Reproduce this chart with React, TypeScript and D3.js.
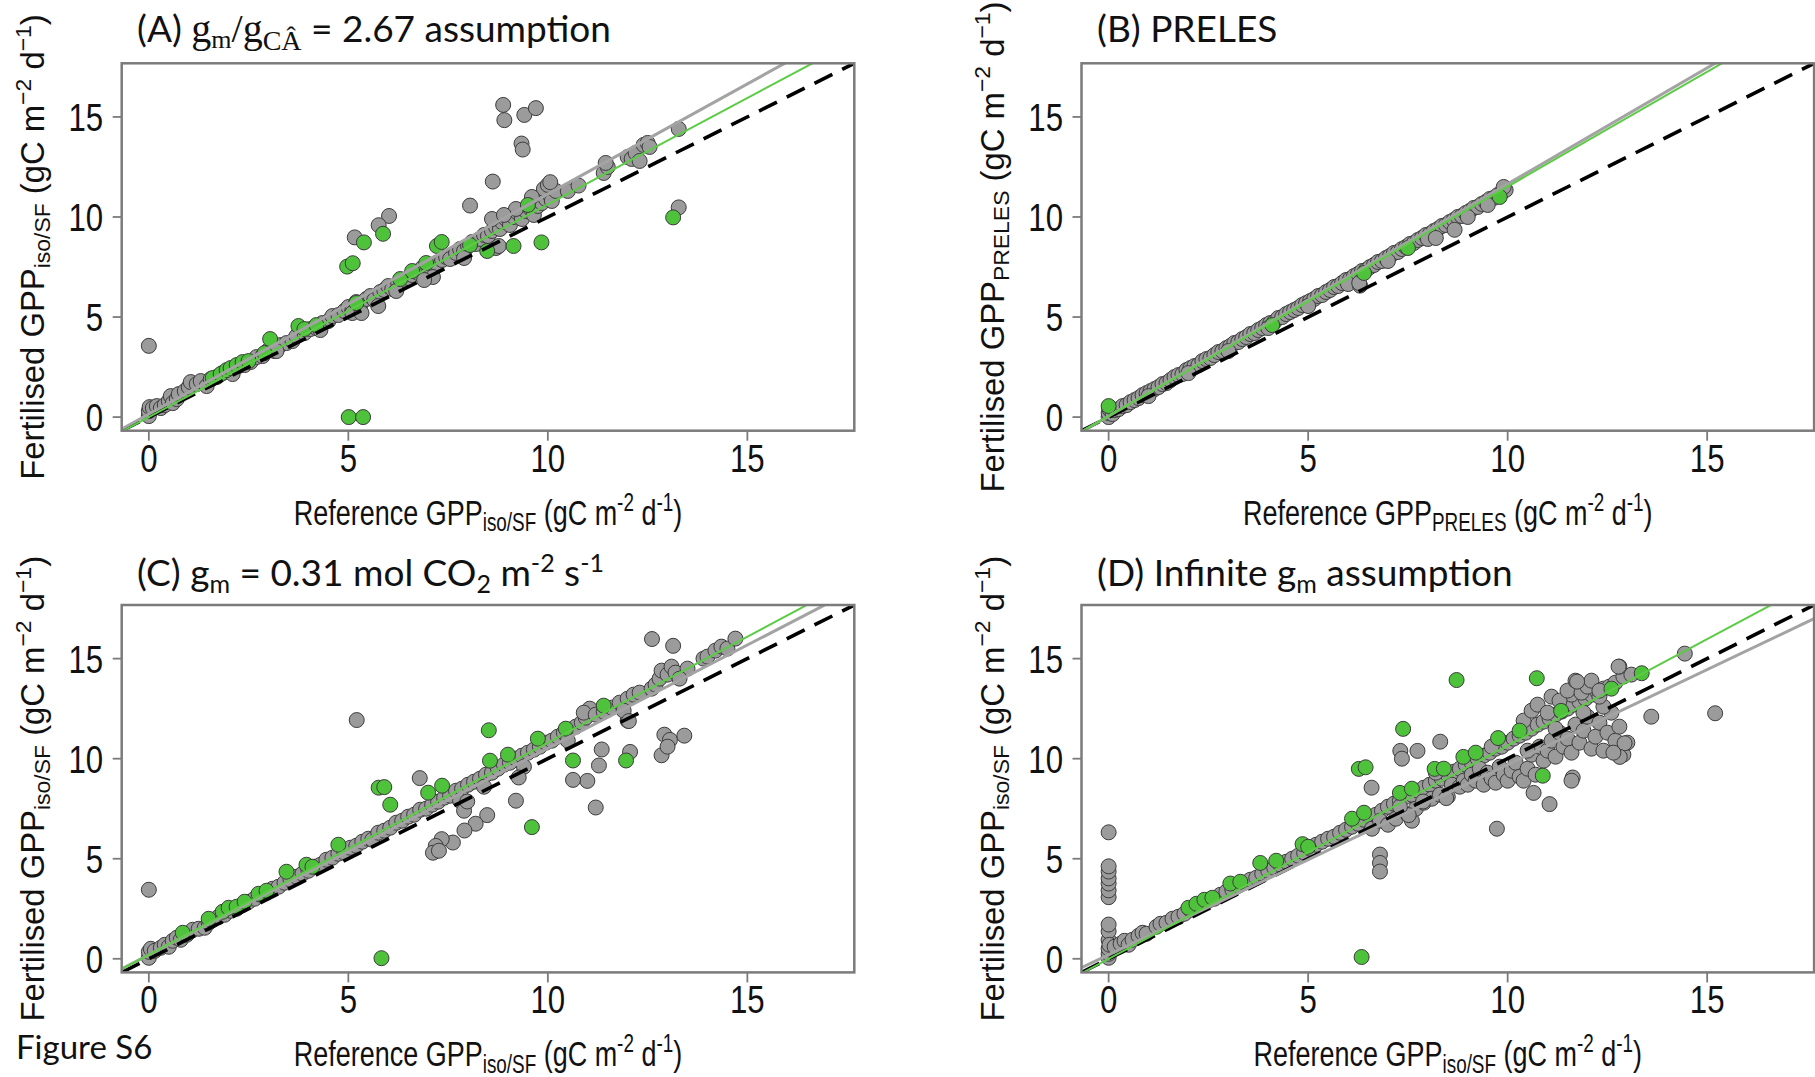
import React from 'react';
import * as d3 from 'd3';

type P = [number, number];

const DOMAIN: [number, number] = [-0.68, 17.68];
const TICKS = [0, 5, 10, 15];

// ---------- Panel A ----------
const aGray: P[] = [
  [0,0.05],[0,0.3],[0.02,0.5],[0.1,0.45],[0.2,0.55],[0.3,0.45],[0.4,0.6],[0.5,0.8],[0.55,1.05],[0.6,0.7],[0.7,0.9],[0.75,1.15],[0.9,1.3],[1.0,1.5],[1.05,1.75],[1.2,1.65],[1.3,1.8],[1.45,1.55],[1.55,1.9],[1.7,2.0],[1.85,2.2],[2.0,2.3],[2.1,2.15],[2.25,2.55],[2.4,2.6],[2.55,2.75],[2.7,3.0],[2.85,3.05],[3.0,3.35],[3.15,3.3],[3.3,3.6],[3.45,3.7],[3.6,3.8],[3.7,4.05],[3.9,4.2],[4.05,4.4],[4.2,4.45],[4.35,4.7],[4.5,4.8],[4.6,5.05],[4.75,5.1],[4.9,5.3],[5.0,5.5],[5.1,5.35],[5.2,5.75],[5.3,5.6],[5.45,5.9],[5.55,6.05],[5.65,5.85],[5.8,6.25],[5.9,6.35],[6.0,6.55],[6.1,6.4],[6.25,6.7],[6.35,6.85],[6.5,6.95],[6.6,7.1],[6.75,7.2],[6.85,7.45],[7.0,7.5],[7.1,7.35],[7.2,7.7],[7.35,7.85],[7.45,8.0],[7.55,7.9],[7.7,8.2],[7.8,8.4],[7.9,8.3],[8.0,8.55],[8.1,8.75],[8.2,8.65],[8.3,8.9],[8.4,9.1],[8.5,9.05],[8.6,9.3],[8.7,9.5],[8.8,9.4],[8.85,9.75],[8.95,9.9],[9.05,9.6],[9.15,10.0],[9.25,10.2],[9.35,9.9],[9.45,10.3],[9.55,10.45],[9.65,10.1],[9.75,10.55],[9.85,10.7],[9.95,10.9],[10.05,11.1],[10.1,10.8],[10.2,11.3],[9.9,11.4],[10.0,11.6],
  [5.1,5.2],[5.33,5.2],[5.75,5.55],[7.12,7.0],[6.2,6.3],[8.7,8.45],[7.9,7.95],[4.3,4.35],[3.2,3.3],[6.9,6.85],
  [8.6,9.9],[9.2,10.4],[8.9,10.1],[9.6,11.0],
  [10.5,11.3],[10.77,11.57],[11.4,12.2],[11.5,12.5],[11.45,12.7],[12.0,13.0],[12.1,12.9],[12.2,13.2],[12.3,12.8],[12.4,13.6],[12.5,13.7],[12.55,13.5],[13.28,14.4],
  [0,3.56],[8.88,15.6],[8.91,14.84],[9.41,15.1],[9.7,15.44],[9.34,13.67],[9.37,13.37],[8.62,11.77],[8.05,10.57],[6.02,10.05],[5.76,9.59],[5.16,8.98],[13.28,10.48],[8.77,8.55],[10.06,11.74]
];
const aGreen: P[] = [
  [1.6,1.95],[1.8,2.15],[1.95,2.35],[2.05,2.45],[2.2,2.6],[2.35,2.75],[2.5,2.8],[2.9,3.2],[3.04,3.9],[3.75,4.55],[3.9,4.4],[4.2,4.6],[5.2,5.7],[6.3,6.9],[6.6,7.3],[6.95,7.7],[7.22,8.55],[7.34,8.75],[8.05,8.6],[8.48,8.3],[9.5,10.6],
  [5.01,0],[5.37,0],[4.97,7.52],[5.11,7.69],[5.39,8.73],[5.87,9.16],[9.14,8.55],[9.84,8.73],[13.14,9.98]
];

// ---------- Panel B ----------
const bGray: P[] = [
  [0,0.0],[0,0.2],[0.02,0.4],[0.1,0.15],[0.15,0.35],[0.25,0.4],[0.35,0.55],[0.45,0.6],[0.55,0.75],[0.65,0.85],[0.75,0.95],[0.85,1.1],[0.95,1.2],[1.05,1.3],[1.15,1.4],[1.25,1.5],[1.35,1.65],[1.45,1.7],[1.55,1.85],[1.65,2.0],[1.75,2.1],[1.85,2.15],[1.95,2.35],[2.05,2.45],[2.15,2.55],[2.25,2.6],[2.35,2.8],[2.45,2.9],[2.55,2.95],[2.65,3.1],[2.75,3.25],[2.85,3.3],[2.95,3.45],[3.05,3.55],[3.15,3.7],[3.25,3.75],[3.35,3.9],[3.45,4.0],[3.55,4.15],[3.65,4.2],[3.75,4.35],[3.85,4.45],[3.95,4.6],[4.05,4.7],[4.15,4.75],[4.25,4.95],[4.35,5.0],[4.45,5.15],[4.55,5.25],[4.65,5.35],[4.75,5.45],[4.85,5.6],[4.95,5.7],[5.05,5.8],[5.15,5.9],[5.25,6.05],[5.35,6.1],[5.45,6.25],[5.55,6.35],[5.65,6.5],[5.75,6.55],[5.85,6.7],[5.95,6.85],[6.05,6.9],[6.15,7.05],[6.25,7.15],[6.35,7.3],[6.45,7.35],[6.55,7.5],[6.65,7.6],[6.75,7.75],[6.85,7.8],[6.95,7.95],[7.05,8.05],[7.15,8.2],[7.25,8.25],[7.35,8.4],[7.45,8.5],[7.55,8.65],[7.65,8.7],[7.75,8.85],[7.85,8.95],[7.95,9.1],[8.05,9.15],[8.15,9.3],[8.25,9.4],[8.35,9.55],[8.45,9.6],[8.55,9.75],[8.65,9.85],[8.75,10.0],[8.85,10.05],[8.95,10.2],[9.05,10.3],[9.15,10.45],[9.25,10.5],[9.35,10.65],[9.45,10.75],[9.55,10.9],[9.65,10.95],[9.75,11.1],[9.85,11.2],[9.95,11.35],[9.9,11.5],
  [1.0,1.05],[2.0,2.2],[3.0,3.3],[4.0,4.45],[5.0,5.55],[6.0,6.65],[7.0,7.8],[8.0,8.9],[9.0,10.0],[9.5,10.6],
  [6.3,6.57],[6.28,6.7],[8.67,9.36],[8.2,8.95]
];
const bGreen: P[] = [[0,0.55],[4.1,4.6],[6.4,7.2],[7.5,8.45],[9.8,11.0]];

// ---------- Panel C ----------
const cGray: P[] = [
  [0,0.05],[0,0.35],[0.05,0.5],[0.15,0.4],[0.3,0.55],[0.4,0.7],[0.5,0.6],[0.6,0.9],[0.7,1.05],[0.8,0.95],[0.95,1.2],[1.1,1.45],[1.25,1.5],[1.4,1.55],[1.5,1.8],[1.6,1.95],[1.75,2.1],[1.9,2.2],[2.05,2.4],[2.2,2.5],[2.35,2.7],[2.5,2.85],[2.65,3.0],[2.8,3.2],[2.95,3.3],[3.1,3.5],[3.25,3.6],[3.4,3.8],[3.55,3.95],[3.7,4.1],[3.85,4.25],[4.0,4.4],[4.15,4.6],[4.3,4.7],[4.45,4.95],[4.6,5.05],[4.75,5.25],[4.9,5.3],[5.05,5.55],[5.2,5.65],[5.35,5.85],[5.5,6.0],[5.6,5.95],[5.75,6.3],[5.9,6.4],[6.05,6.55],[6.2,6.8],[6.35,6.9],[6.5,7.1],[6.65,7.2],[6.8,7.45],[6.95,7.5],[7.1,7.7],[7.25,7.85],[7.4,8.05],[7.55,8.15],[7.7,8.4],[7.85,8.5],[8.0,8.7],[8.15,8.85],[8.3,9.0],[8.45,9.2],[8.6,9.3],[8.75,9.5],[8.9,9.7],[9.05,9.8],[9.2,10.0],[9.35,10.15],[9.5,10.3],[9.65,10.45],[9.8,10.6],[9.95,10.8],[10.1,10.9],[10.25,11.1],[10.4,11.3],[10.55,11.45],[10.7,11.6],[10.85,11.8],[10.95,12.05],[11.05,12.5],[10.9,12.3],[11.2,12.2],[11.4,12.35],[11.6,12.55],[11.8,12.8],[12.0,13.0],[12.15,13.2],[12.3,13.3],[12.6,13.5],[12.7,13.7],[12.8,14.0],[12.85,14.4],[13.0,14.2],[13.1,14.6],[13.2,14.3],[13.5,14.5],[13.9,15.0],[14.0,15.1],[14.2,15.4],[14.35,15.6],[14.5,15.5],[14.7,16.0],[13.3,14.0],
  [7.8,7.9],[7.9,7.4],[8.4,8.6],[9.4,9.6],[10.5,10.9],[12.0,11.9],[11.9,12.4],
  [0,3.45],[5.21,11.93],[6.79,9.03],[12.61,15.98],[13.14,15.64],[12.92,11.2],[13.06,10.94],[13.42,11.15],[12.85,10.17],[13.0,10.6],[12.06,10.34],[12.03,11.88],[11.35,10.46],[11.28,9.66],[10.99,8.89],[10.63,8.94],[11.2,7.56],[9.27,9.06],[9.2,7.9],[8.48,7.18],[8.19,6.75],[7.91,6.41],[7.62,5.81],[7.34,5.98],[7.19,5.64],[7.12,5.3],[7.27,5.4],[7.98,7.86]
];
const cGreen: P[] = [
  [0.85,1.3],[1.5,2.0],[1.85,2.35],[2.0,2.55],[2.2,2.6],[2.4,2.85],[2.75,3.25],[2.95,3.4],[3.45,4.35],[3.95,4.7],[4.1,4.6],[4.75,5.7],[6.05,7.7],[7.0,8.3],[7.35,8.65],[8.55,9.9],[9.0,10.2],[9.75,11.0],[10.45,11.5],[11.4,12.65],
  [5.83,0.03],[5.76,8.55],[5.9,8.58],[8.52,11.42],[9.6,6.58],[10.63,9.91],[11.96,9.91]
];

// ---------- Panel D ----------
const dGray: P[] = [
  [0,0.05],[0,0.25],[0,0.51],[0,0.94],[0,1.37],[0,1.71],[0,3.08],[0,3.42],[0,3.76],[0,4.02],[0,4.36],[0,4.62],[0,6.32],[0.02,0.7],
  [0.15,0.6],[0.3,0.75],[0.4,0.9],[0.5,0.7],[0.6,0.95],[0.75,1.15],[0.85,1.3],[0.95,1.25],[1.2,1.6],[1.3,1.75],[1.45,1.8],[1.6,2.0],[1.75,2.1],[1.9,2.25],[2.05,2.45],[2.2,2.6],[2.35,2.75],[2.5,2.9],[2.65,3.0],[2.8,3.2],[2.95,3.35],[3.1,3.45],[3.25,3.65],[3.4,3.8],[3.55,3.95],[3.7,4.05],[3.85,4.25],[4.0,4.4],[4.15,4.55],[4.3,4.7],[4.45,4.85],[4.6,5.0],[4.75,5.15],[4.9,5.3],[5.05,5.5],[5.2,5.7],[5.35,5.85],[5.5,6.0],[5.65,6.1],[5.8,6.3],[5.95,6.45],[6.1,6.6],[6.25,6.75],[6.4,6.95],[6.55,7.1],[6.7,7.2],[6.85,7.4],[7.0,7.6],[7.15,7.75],[7.3,7.9],[7.45,8.1],[7.6,8.2],[7.75,8.4],[7.9,8.55],[8.05,8.7],[8.2,8.9],[8.35,9.0],[8.5,9.2],[8.65,9.35],[8.8,9.5],[8.95,9.7],[9.1,9.8],[9.25,10.0],[9.4,10.15],[9.55,10.3],[9.7,10.5],[9.85,10.6],[10.0,10.8],[10.15,11.0],[10.3,11.15],[10.45,11.3],[10.6,11.5],[10.75,11.7],[10.9,11.85],[11.05,12.0],[11.2,12.2],[11.35,12.35],[11.5,12.5],[11.65,12.7],[11.8,12.85],[11.95,13.0],[12.1,13.2],[12.25,13.35],[12.4,13.5],[12.55,13.6],[12.7,13.8],[12.9,14.1],[13.1,14.2],
  [6.6,6.5],[6.8,6.9],[7.0,6.7],[7.2,7.0],[7.5,7.2],[7.6,6.9],[7.7,7.5],[7.9,7.8],[8.1,8.0],[8.3,8.2],[8.5,8.1],[8.6,8.7],[8.8,8.6],[8.9,8.9],[9.0,8.7],[9.1,9.2],[9.2,8.9],[9.3,9.5],[9.4,8.7],[9.5,9.3],[9.6,9.0],[9.7,8.8],[9.8,9.6],[9.9,9.2],[10.0,8.9],[10.1,9.4],[10.2,9.8],[10.3,9.1],[10.4,8.9],[10.5,9.5],[10.6,10.2],[10.7,9.2],[10.8,10.6],[10.9,9.9],[11.0,10.4],[11.1,10.9],[11.2,10.1],[11.3,11.3],[11.4,10.6],[11.5,11.0],[11.6,10.3],[11.7,11.7],[11.8,10.8],[11.9,11.4],[12.0,12.1],[12.1,10.5],[12.2,11.1],[12.3,11.8],[12.4,10.4],[12.5,11.3],[12.6,12.3],[12.7,10.9],[12.8,11.6],[12.9,10.2],[13.0,10.8],[12.4,12.6],[11.2,11.5],[10.5,10.4],[9.6,10.6],[8.2,9.3],[11.9,12.3],[11.6,13.2],[11.9,13.6],[12.3,13.1],
  [10.4,11.9],[10.6,12.4],[10.75,12.7],[11.0,12.3],[11.1,13.1],[11.3,12.9],[11.5,13.4],[11.7,13.9],[11.85,13.3],[12.0,13.6],[12.1,13.9],[12.3,13.4],[12.8,14.6],
  [14.44,15.25],[15.2,12.27],[13.6,12.1],[12.78,14.6],[11.74,13.85],[8.31,10.85],[7.74,10.39],[7.31,10.39],[7.35,10.0],[6.59,8.55],[6.8,5.21],[6.8,4.79],[6.8,4.36],[9.73,6.5],[11.05,7.73],[10.65,8.29],[11.63,9.06],[11.6,8.9],[12.93,10.77],[12.81,10.09],[12.65,10.3],[7.52,7.18],[7.3,7.6],[7.88,7.86],[8.46,8.03]
];
const dGreen: P[] = [
  [2.0,2.55],[2.2,2.75],[2.4,2.95],[2.6,3.05],[3.05,3.76],[3.3,3.85],[3.8,4.79],[4.2,4.9],[4.86,5.73],[5.0,5.6],[6.1,7.0],[6.4,7.3],[7.3,8.29],[7.6,8.5],[8.17,9.49],[8.4,9.5],[8.89,10.09],[9.2,10.3],[9.76,11.03],[10.3,11.4],[11.34,12.39],[12.6,13.5],
  [6.34,0.09],[6.27,9.49],[6.44,9.57],[7.38,11.49],[8.72,13.93],[10.73,14.02],[10.88,9.15],[13.36,14.27]
];

// fitted lines: [intercept, slope]
const grayFitA: P = [0.15, 1.1];
const greenFitA: P = [0.0, 1.063];
const grayFitB: P = [0.05, 1.16];
const greenFitB: P = [0.05, 1.147];
const grayFitC: P = [0.2, 1.032];
const greenFitC: P = [0.2, 1.06];
const grayFitD: P = [0.2, 0.95];
const greenFitD: P = [0.0, 1.065];

const PW = 732.6;
const PH = 367.4;
const XLAB_SX = 0.76;
const TICK_SX = 0.8;
const XLAB_FS = 35.5;
const YLAB_FS = 32.8;
const TICK_FS = 39;
const ARIAL = '"Liberation Sans", Arial, sans-serif';
const CAL = 'Lato, "Open Sans", sans-serif';
const SERIF = '"Liberation Serif", "DejaVu Serif", serif';

const GRAY_FILL = '#9b9b9b';
const GREEN_FILL = '#4fc23b';
const PT_STROKE = '#3c3c3c';
const BOX = '#7b7b7b';

function UnitText({ lead, sub, minus, fs }: { lead: string; sub: string; minus: string; fs: number }) {
  const s = fs * 0.7;
  const dn = fs * 0.18;
  const up = fs * 0.4;
  return (
    <>
      {lead + ' GPP'}
      <tspan fontSize={s} dy={dn}>{sub}</tspan>
      <tspan dy={-dn}>{' (gC m'}</tspan>
      <tspan fontSize={s} dy={-up}>{minus + '2'}</tspan>
      <tspan dy={up}>{' d'}</tspan>
      <tspan fontSize={s} dy={-up}>{minus + '1'}</tspan>
      <tspan dy={up}>{')'}</tspan>
    </>
  );
}

interface PanelProps {
  id: string;
  left: number;
  top: number;
  gray: P[];
  green: P[];
  grayFit: P;
  greenFit: P;
  sub: string;
}

function Panel({ id, left, top, gray, green, grayFit, greenFit, sub }: PanelProps) {
  const x = d3.scaleLinear().domain(DOMAIN).range([left, left + PW]);
  const y = d3.scaleLinear().domain(DOMAIN).range([top + PH, top]);
  const line = d3.line<P>().x((d) => x(d[0])).y((d) => y(d[1]));
  const fitPts = (f: P): P[] => [DOMAIN[0], DOMAIN[1]].map((v) => [v, f[0] + f[1] * v] as P);
  const clip = `clip-${id}`;
  const bottom = top + PH;
  return (
    <g>
      <defs>
        <clipPath id={clip}>
          <rect x={left} y={top} width={PW} height={PH} />
        </clipPath>
      </defs>
      <g clipPath={`url(#${clip})`}>
        {gray.map((d, i) => (
          <circle key={'g' + i} cx={x(d[0])} cy={y(d[1])} r={7.5} fill={GRAY_FILL} stroke={PT_STROKE} strokeWidth={1} />
        ))}
        {green.map((d, i) => (
          <circle key={'n' + i} cx={x(d[0])} cy={y(d[1])} r={7.5} fill={GREEN_FILL} stroke={PT_STROKE} strokeWidth={1} />
        ))}
        <path d={line([[DOMAIN[0], DOMAIN[0]], [DOMAIN[1], DOMAIN[1]]]) || ''} stroke="#000" strokeWidth={3.6} strokeDasharray="20 11" fill="none" />
        <path d={line(fitPts(grayFit)) || ''} stroke="#a3a3a3" strokeWidth={3} fill="none" />
        <path d={line(fitPts(greenFit)) || ''} stroke="#5ccb45" strokeWidth={2} fill="none" />
      </g>
      <rect x={left} y={top} width={PW} height={PH} fill="none" stroke={BOX} strokeWidth={2.5} />
      {TICKS.map((t) => (
        <g key={'xt' + t}>
          <line x1={x(t)} x2={x(t)} y1={bottom} y2={bottom + 10} stroke={BOX} strokeWidth={1.8} />
          <g transform={`translate(${x(t)},${bottom + 41}) scale(${TICK_SX},1)`}>
            <text textAnchor="middle" fontSize={TICK_FS} fontFamily={ARIAL} fill="#111">{t}</text>
          </g>
        </g>
      ))}
      {TICKS.map((t) => (
        <g key={'yt' + t}>
          <line x1={left - 9} x2={left} y1={y(t)} y2={y(t)} stroke={BOX} strokeWidth={1.8} />
          <g transform={`translate(${left - 18.5},${y(t) + 14}) scale(${TICK_SX},1)`}>
            <text textAnchor="end" fontSize={TICK_FS} fontFamily={ARIAL} fill="#111">{t}</text>
          </g>
        </g>
      ))}
      <g transform={`translate(${left + PW / 2},${bottom + 94}) scale(${XLAB_SX},1)`}>
        <text textAnchor="middle" fontSize={XLAB_FS} fontFamily={ARIAL} fill="#111">
          <UnitText lead="Reference" sub={sub} minus="-" fs={XLAB_FS} />
        </text>
      </g>
      <g transform={`translate(${left - 78},${top + PH / 2}) rotate(-90)`}>
        <text textAnchor="middle" fontSize={YLAB_FS} fontFamily={ARIAL} fill="#111">
          <UnitText lead="Fertilised" sub={sub} minus={'\u2212'} fs={YLAB_FS} />
        </text>
      </g>
    </g>
  );
}

const LEFTS = [121.7, 1081.5];
const TOPS = [63.3, 605];
const TITLE_FS = 37;

export default function App() {
  return (
    <div style={{ position: 'absolute', left: 0, top: 0, width: 1815, height: 1077, background: '#fff' }}>
      <svg width={1815} height={1077} style={{ display: 'block' }}>
        <rect width={1815} height={1077} fill="#fff" />
        <Panel id="A" left={LEFTS[0]} top={TOPS[0]} gray={aGray} green={aGreen} grayFit={grayFitA} greenFit={greenFitA} sub="iso/SF" />
        <Panel id="B" left={LEFTS[1]} top={TOPS[0]} gray={bGray} green={bGreen} grayFit={grayFitB} greenFit={greenFitB} sub="PRELES" />
        <Panel id="C" left={LEFTS[0]} top={TOPS[1]} gray={cGray} green={cGreen} grayFit={grayFitC} greenFit={greenFitC} sub="iso/SF" />
        <Panel id="D" left={LEFTS[1]} top={TOPS[1]} gray={dGray} green={dGreen} grayFit={grayFitD} greenFit={greenFitD} sub="iso/SF" />

        <text x={137} y={41.7} fontSize={TITLE_FS} fontFamily={CAL} fill="#111">
          {'(A) '}
          <tspan fontFamily={SERIF} fontSize={40}>g</tspan>
          <tspan fontFamily={SERIF} fontSize={26} dy={6}>m</tspan>
          <tspan fontFamily={SERIF} fontSize={40} dy={-6}>/g</tspan>
          <tspan fontFamily={SERIF} fontSize={28} dy={8}>{'C\u00C2'}</tspan>
          <tspan dy={-8}>{' =  2.67 assumption'}</tspan>
        </text>
        <text x={1097} y={41.7} fontSize={TITLE_FS} fontFamily={CAL} fill="#111">(B) PRELES</text>
        <text x={137} y={586} fontSize={TITLE_FS} fontFamily={CAL} fill="#111">
          {'(C) g'}
          <tspan fontSize={25} dy={7}>m</tspan>
          <tspan dy={-7}>{' = 0.31 mol CO'}</tspan>
          <tspan fontSize={25} dy={7}>2</tspan>
          <tspan dy={-7}>{' m'}</tspan>
          <tspan fontSize={25} dy={-14}>-2</tspan>
          <tspan dy={14}>{' s'}</tspan>
          <tspan fontSize={25} dy={-14}>-1</tspan>
        </text>
        <text x={1097} y={586} fontSize={TITLE_FS} fontFamily={CAL} fill="#111">
          {'(D) Infinite g'}
          <tspan fontSize={25} dy={7}>m</tspan>
          <tspan dy={-7}>{' assumption'}</tspan>
        </text>
        <text x={16} y={1059} fontSize={33} fontFamily={CAL} fill="#111">Figure S6</text>
      </svg>
    </div>
  );
}
